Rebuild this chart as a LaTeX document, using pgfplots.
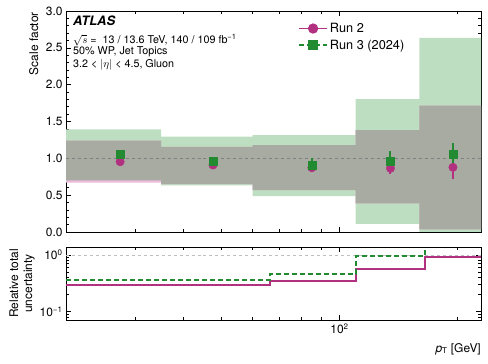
\documentclass[border=0pt]{standalone}
\usepackage{fontspec}
\setmainfont{TeX Gyre Heros}
\usepackage{pgfplots}
\pgfplotsset{compat=1.18}

\definecolor{mag}{RGB}{177,48,128}
\definecolor{dgreen}{RGB}{34,139,50}
\definecolor{bandgreen}{RGB}{190,222,193}
\definecolor{bandpink}{RGB}{236,186,220}
\definecolor{bandgray}{RGB}{168,171,161}

\begin{document}
\begin{tikzpicture}
\useasboundingbox (0,0) rectangle (488bp,364bp);

% ---- main panel: scale factors
\begin{axis}[
  scale only axis, width=415bp, height=221bp,
  at={(66bp,132bp)}, anchor=south west,
  xmode=log, xmin=20, xmax=230,
  ymin=0, ymax=3,
  tick align=inside,
  major tick length=5bp, minor tick length=3bp,
  axis line style={line width=0.8bp},
  every tick/.style={black, line width=0.6bp},
  tick label style={font=\fontsize{12}{14}\selectfont},
  /pgf/number format/assume math mode=true,
  xtick={100}, xticklabels={},
  minor xtick={20,30,40,50,60,70,80,90,200},
  ytick={0,0.5,1,1.5,2,2.5,3}, minor y tick num=4,
  yticklabel style={/pgf/number format/fixed, /pgf/number format/fixed zerofill, /pgf/number format/precision=1},
  legend style={at={(0.559,0.955)}, anchor=north west, draw=none, fill=none,
    font=\fontsize{12.8}{15}\selectfont, row sep=2bp, inner sep=0pt},
  legend cell align=left,
  legend image code/.code={\draw[#1, mark repeat=2, mark phase=2] plot coordinates {(0bp,0bp) (14bp,0bp) (28bp,0bp)};},
]
\addlegendimage{mag, line width=1.8bp, mark=*, mark size=4.2bp, mark options={solid}}
\addlegendentry{Run 2}
\addlegendimage{dgreen, line width=1.8bp, dash pattern=on 5bp off 3bp, mark=square*, mark size=4bp, mark options={solid}}
\addlegendentry{Run 3 (2024)}

% Run 3 total uncertainty band
\addplot[forget plot, fill=bandgreen, draw=none] coordinates {
  (20,1.393) (35,1.393) (35,1.295) (60,1.295) (60,1.316) (110,1.316)
  (110,1.805) (160,1.805) (160,2.636) (230,2.636)
  (230,-0.1) (160,-0.1) (160,0.109) (110,0.109) (110,0.488) (60,0.488)
  (60,0.634) (35,0.634) (35,0.700) (20,0.700)} -- cycle;
% Run 2 total uncertainty band
\addplot[forget plot, fill=bandpink, draw=none] coordinates {
  (20,1.239) (35,1.239) (35,1.157) (60,1.157) (60,1.180) (110,1.180)
  (110,1.384) (160,1.384) (160,1.714) (230,1.714)
  (230,0.035) (160,0.035) (160,0.389) (110,0.389) (110,0.570) (60,0.570)
  (60,0.650) (35,0.650) (35,0.669) (20,0.669)} -- cycle;
% overlap of the two bands
\addplot[forget plot, fill=bandgray, draw=none] coordinates {
  (20,1.239) (35,1.239) (35,1.157) (60,1.157) (60,1.180) (110,1.180)
  (110,1.384) (160,1.384) (160,1.714) (230,1.714)
  (230,0.035) (160,0.035) (160,0.389) (110,0.389) (110,0.570) (60,0.570)
  (60,0.650) (35,0.650) (35,0.700) (20,0.700)} -- cycle;

\addplot[forget plot, gray, dashed, line width=0.5bp] coordinates {(20,1) (230,1)};

% Run 2
\addplot[forget plot, only marks, mag, mark=*, mark size=4.2bp,
  error bars/.cd, y dir=both, y explicit, error mark=none,
  error bar style={line width=2bp, mag}]
  coordinates {
  (27.5,0.954) +- (0,0.02)
  (47.5,0.909) +- (0,0.02)
  (85,0.872) +- (0,0.03)
  (135,0.864) +- (0,0.077)
  (195,0.878) +- (0,0.16)};
% Run 3
\addplot[forget plot, only marks, dgreen, mark=square*, mark size=4bp,
  error bars/.cd, y dir=both, y explicit, error mark=none,
  error bar style={line width=2bp, dgreen}]
  coordinates {
  (27.5,1.050) +- (0,0.02)
  (47.5,0.967) +- (0,0.03)
  (85,0.910) +- (0,0.095)
  (135,0.960) +- (0,0.14)
  (195,1.054) +- (0,0.15)};
\end{axis}

% ---- ratio panel: relative total uncertainty
\begin{axis}[
  scale only axis, width=415bp, height=73bp,
  at={(66bp,44bp)}, anchor=south west,
  xmode=log, xmin=20, xmax=230,
  ymode=log, ymin=0.0714, ymax=1.38,
  tick align=inside,
  major tick length=5bp, minor tick length=3bp,
  axis line style={line width=0.8bp},
  every tick/.style={black, line width=0.6bp},
  tick label style={font=\fontsize{12}{14}\selectfont},
  xtick={100}, xticklabels={10\textsuperscript{2}},
  minor xtick={20,30,40,50,60,70,80,90,200},
  ytick={0.1,1}, yticklabels={10\textsuperscript{−1},10\textsuperscript{0}},
  minor ytick={0.08,0.09,0.2,0.3,0.4,0.5,0.6,0.7,0.8,0.9},
]
\addplot[gray!50, dashed, line width=0.5bp] coordinates {(20,1) (230,1)};
\addplot[const plot mark left, mag, line width=2bp] coordinates {
  (20,0.290) (66.6,0.343) (110,0.559) (165.4,0.935) (230,0.935)};
\addplot[const plot mark left, dgreen, line width=2bp, dash pattern=on 5bp off 3bp] coordinates {
  (20,0.362) (66.6,0.469) (110,0.960) (165.4,1.6) (230,1.6)};
\end{axis}

% ---- labels and annotations
\node[rotate=90, anchor=base east, inner sep=0pt, font=\fontsize{12}{14}\selectfont] at (38bp,352bp) {Scale factor};
\node[rotate=90, align=center, inner sep=0pt, font=\fontsize{12}{14}\selectfont] at (22bp,80.5bp) {Relative total\\uncertainty};
\node[anchor=base east, inner sep=0pt, font=\fontsize{12}{14}\selectfont] at (481bp,12bp) {\textit{p}\textsubscript{T} [GeV]};

\node[anchor=base west, inner sep=0pt, font=\fontsize{13}{15}\selectfont\bfseries\itshape] at (73bp,338bp) {ATLAS};
\node[anchor=base west, inner sep=0pt, font=\fontsize{10.8}{12}\selectfont] at (73bp,320.5bp) {\smash{$\sqrt{s}$} = \ 13 / 13.6 TeV, 140 / 109 fb\textsuperscript{−1}};
\node[anchor=base west, inner sep=0pt, font=\fontsize{10.8}{12}\selectfont] at (73bp,309bp) {50\% WP, Jet Topics};
\node[anchor=base west, inner sep=0pt, font=\fontsize{10.8}{12}\selectfont] at (73bp,296.5bp) {3.2 < $|\eta|$ < 4.5, Gluon};
\end{tikzpicture}
\end{document}
